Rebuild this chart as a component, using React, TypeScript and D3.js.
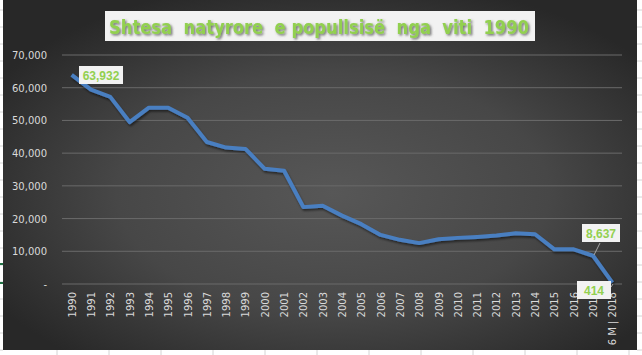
import * as d3 from "d3";

const YEARS = ["1990","1991","1992","1993","1994","1995","1996","1997","1998","1999","2000","2001","2002","2003","2004","2005","2006","2007","2008","2009","2010","2011","2012","2013","2014","2015","2016","2017","6 M | 2018"];
const VALUES = [63932,59400,57200,49500,53900,53900,50800,43400,41700,41300,35200,34600,23500,23900,20900,18300,15000,13500,12500,13700,14100,14400,14800,15500,15200,10600,10600,8637,414];
const Y_TICKS = [0,10000,20000,30000,40000,50000,60000,70000];
const LABELED = [0, 27, 28];

const W = 642;
const H = 355;

export default function App() {
  const x = d3.scaleBand().domain(YEARS).range([62, 622]);
  const y = d3.scaleLinear().domain([0, 70000]).range([284, 55]);
  const cx = (d: string) => (x(d) as number) + x.bandwidth() / 2;
  const line = d3.line<number>().x((_, i) => cx(YEARS[i])).y((v) => y(v));
  const fmt = d3.format(",");

  const cellLines = d3.range(10, H, 17);
  const colLines = d3.range(57, W, 52);

  // label boxes and leader lines
  const boxes: Record<number, { bx: number; by: number; bw: number; lead?: [number, number, number, number] }> = {
    0: { bx: 79, by: 66, bw: 44 },
    27: { bx: 582, by: 224, bw: 38, lead: [600, 243, 594, 255] },
    28: { bx: 577, by: 281, bw: 34, lead: [611, 287, 613, 284] },
  };

  return (
    <svg width={W} height={H} style={{ position: "absolute", left: 0, top: 0 }}>
      <defs>
        <radialGradient id="bg" cx="0.52" cy="0.55" r="0.62">
          <stop offset="0" stopColor="#575757" />
          <stop offset="0.55" stopColor="#474747" />
          <stop offset="1" stopColor="#282828" />
        </radialGradient>
        <filter id="sh" x="-5%" y="-5%" width="110%" height="120%">
          <feDropShadow dx="1" dy="2" stdDeviation="1.2" floodColor="#000" floodOpacity="0.5" />
        </filter>
        <filter id="tsh" x="-5%" y="-20%" width="110%" height="150%">
          <feDropShadow dx="1.5" dy="1.5" stdDeviation="1" floodColor="#555" floodOpacity="0.8" />
        </filter>
      </defs>
      <rect width={W} height={H} fill="#fff" />
      {cellLines.map((v) => (
        <g key={v}>
          <line x1={0} x2={3} y1={v} y2={v} stroke="#d4d4d4" />
          <line x1={637} x2={W} y1={v} y2={v} stroke="#d4d4d4" />
        </g>
      ))}
      {colLines.map((v) => (
        <line key={v} x1={v} x2={v} y1={350} y2={H} stroke="#d4d4d4" />
      ))}
      <line x1={0} x2={3} y1={264} y2={264} stroke="#217346" strokeWidth={2} />
      <line x1={0} x2={3} y1={283} y2={283} stroke="#217346" strokeWidth={2} />
      <rect x={3} y={0} width={634} height={350} fill="url(#bg)" />

      {Y_TICKS.map((t) => (
        <g key={t}>
          <line x1={62} x2={622} y1={y(t)} y2={y(t)} stroke="#6a6a6a" strokeWidth={1} />
          <text x={47} y={y(t) + 4} textAnchor="end" fill="#d9d9d9" fontSize={10} fontFamily="'DejaVu Sans', sans-serif">
            {t === 0 ? "-" : fmt(t)}
          </text>
        </g>
      ))}

      {YEARS.map((d) => (
        <text key={d} transform={`translate(${cx(d) + 4},292) rotate(-90)`} textAnchor="end" fill="#d9d9d9" fontSize={10} fontFamily="'DejaVu Sans', sans-serif" style={{ whiteSpace: "pre" }}>
          {d}
        </text>
      ))}

      <path d={line(VALUES) as string} fill="none" stroke="#4a7fc1" strokeWidth={4} strokeLinejoin="round" filter="url(#sh)" />

      {LABELED.map((i) => {
        const b = boxes[i];
        return (
          <g key={i}>
            {b.lead && <line x1={b.lead[0]} y1={b.lead[1]} x2={b.lead[2]} y2={b.lead[3]} stroke="#a6a6a6" strokeWidth={1} />}
            <rect x={b.bx} y={b.by} width={b.bw} height={18} fill="#f2f2f2" />
            <text x={b.bx + b.bw / 2} y={b.by + 13.5} textAnchor="middle" fill="#92d050" fontSize={12} fontWeight="bold" fontFamily="'Liberation Sans', Arial, sans-serif">
              {fmt(VALUES[i])}
            </text>
          </g>
        );
      })}

      <rect x={105} y={11} width={430} height={30} fill="#f2f2f2" />
      <text x={109} y={34} fill="#92d050" fontSize={20} fontWeight="bold" fontFamily="'DejaVu Sans', Verdana, sans-serif" textLength={420} lengthAdjust="spacingAndGlyphs" filter="url(#tsh)" style={{ whiteSpace: "pre" }}>
        {"Shtesa  natyrore  e popullsisë  nga  viti  1990"}
      </text>
    </svg>
  );
}
